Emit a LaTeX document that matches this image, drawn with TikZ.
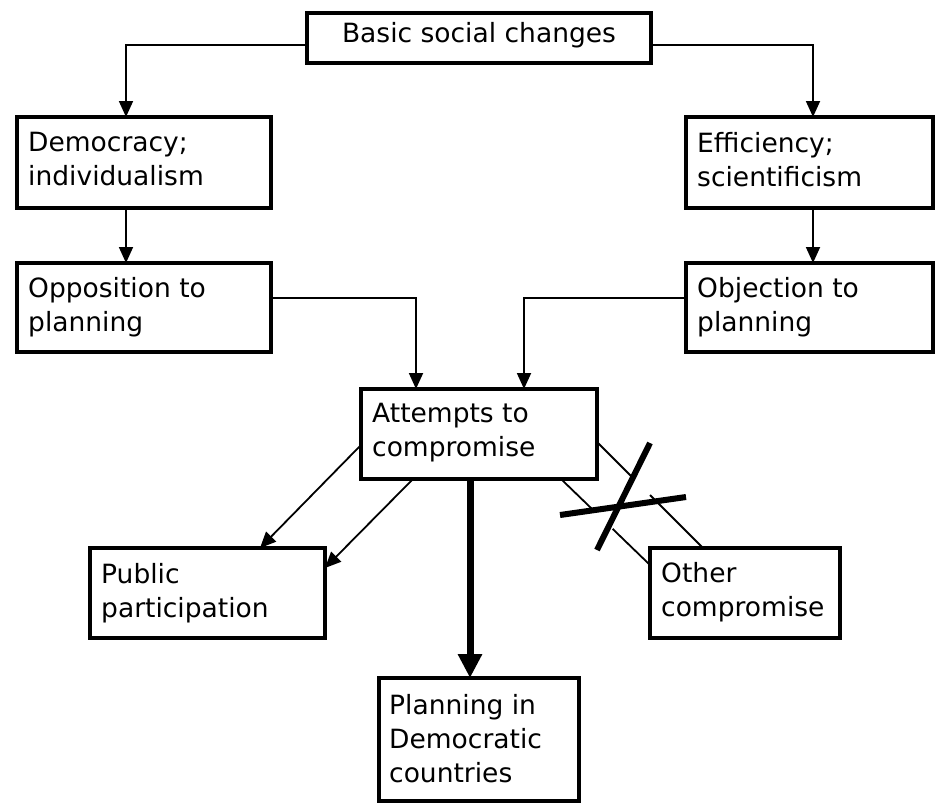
\documentclass[tikz,border=0pt]{standalone}
\usepackage{fontspec}
\setmainfont{DejaVu Sans}
\usetikzlibrary{arrows.meta,calc}
\newcommand\firstline{\rule{0pt}{19pt}}
\begin{document}
\begin{tikzpicture}[x=1pt,y=-1pt,
  box/.style={draw, line width=3.6pt, rectangle, inner sep=0pt, outer sep=0pt, anchor=north west},
  txt/.style={anchor=north west, inner sep=0pt, align=left, font=\fontsize{26.5}{34}\selectfont},
  conn/.style={line width=1.8pt},
  arr/.style={conn, -{Triangle[width=14pt,length=16pt]}},
  bigarr/.style={line width=7pt, -{Triangle[width=23pt,length=24pt]}},
  bar/.style={line width=6pt}]
\useasboundingbox (0,0) rectangle (935,803);

% boxes
\node[box, minimum width=344pt, minimum height=50pt] (basic) at (307,13) {};
\node[box, minimum width=254pt, minimum height=91pt] (dem) at (17,117) {};
\node[box, minimum width=254pt, minimum height=89pt] (opp) at (17,263) {};
\node[box, minimum width=247pt, minimum height=91pt] (eff) at (686,117) {};
\node[box, minimum width=247pt, minimum height=89pt] (obj) at (686,263) {};
\node[box, minimum width=236pt, minimum height=90pt] (att) at (361,389) {};
\node[box, minimum width=235pt, minimum height=90pt] (pub) at (90,548) {};
\node[box, minimum width=190pt, minimum height=90pt] (oth) at (650,548) {};
\node[box, minimum width=200pt, minimum height=123pt] (plan) at (379,678) {};

% texts
\node[anchor=base, inner sep=0pt, font=\fontsize{26.5}{34}\selectfont] (basict) at (479,42) {Basic social changes};
\node[txt] (demt) at ($(dem.north west)+(11,15)$) {\firstline Democracy;\\individualism};
\node[txt] (oppt) at ($(opp.north west)+(11,14)$) {\firstline Opposition to\\planning};
\node[txt] (efft) at ($(eff.north west)+(11,15)$) {\firstline Efficiency;\\scientificism};
\node[txt] (objt) at ($(obj.north west)+(11,14)$) {\firstline Objection to\\planning};
\node[txt] (attt) at ($(att.north west)+(11,14)$) {\firstline Attempts to\\compromise};
\node[txt] (pubt) at ($(pub.north west)+(11,15)$) {\firstline Public\\participation};
\node[txt] (otht) at ($(oth.north west)+(11,14)$) {\firstline Other\\compromise};
\node[txt] (plant) at ($(plan.north west)+(10,16)$) {\firstline Planning in\\Democratic\\countries};

% connectors
\draw[arr] (basic.west |- 0,45) -| ($(dem.north west)+(109,0)$);
\draw[arr] (basic.east |- 0,45) -| ($(eff.north west)+(127,0)$);
\draw[arr] ($(dem.south west)+(109,0)$) -- ($(opp.north west)+(109,0)$);
\draw[arr] ($(eff.south west)+(127,0)$) -- ($(obj.north west)+(127,0)$);
\draw[arr] (opp.east |- 0,298) -| ($(att.north west)+(55,0)$);
\draw[arr] (obj.west |- 0,298) -| ($(att.north west)+(163,0)$);
\draw[arr] ($(att.north west)+(0,56)$) -- ($(pub.north west)+(170,0)$);
\draw[arr] ($(att.south west)+(52,0)$) -- ($(pub.north east)+(0,20)$);
\draw[bigarr] ($(att.south west)+(109,0)$) -- ($(plan.north west)+(91,0)$);

% crossed-out connections
\coordinate (l1a) at ($(att.north east)+(0,53)$);
\coordinate (l1b) at ($(oth.north west)+(53,0)$);
\coordinate (l2a) at ($(att.south east)+(-36,0)$);
\coordinate (l2b) at ($(oth.north west)+(0,17)$);
\draw[conn] (l1a) -- ($(l1a)!0.33!(l1b)$);
\draw[conn] ($(l1a)!0.50!(l1b)$) -- (l1b);
\draw[conn] (l2a) -- ($(l2a)!0.35!(l2b)$);
\draw[conn] ($(l2a)!0.58!(l2b)$) -- (l2b);
\coordinate (h1) at (560,515);
\coordinate (h2) at (686,497);
\coordinate (s1) at (650,443);
\coordinate (s2) at (597,550);
\draw[bar] (h1) -- (h2);
\draw[bar] (s1) -- (s2);
\end{tikzpicture}
\end{document}
